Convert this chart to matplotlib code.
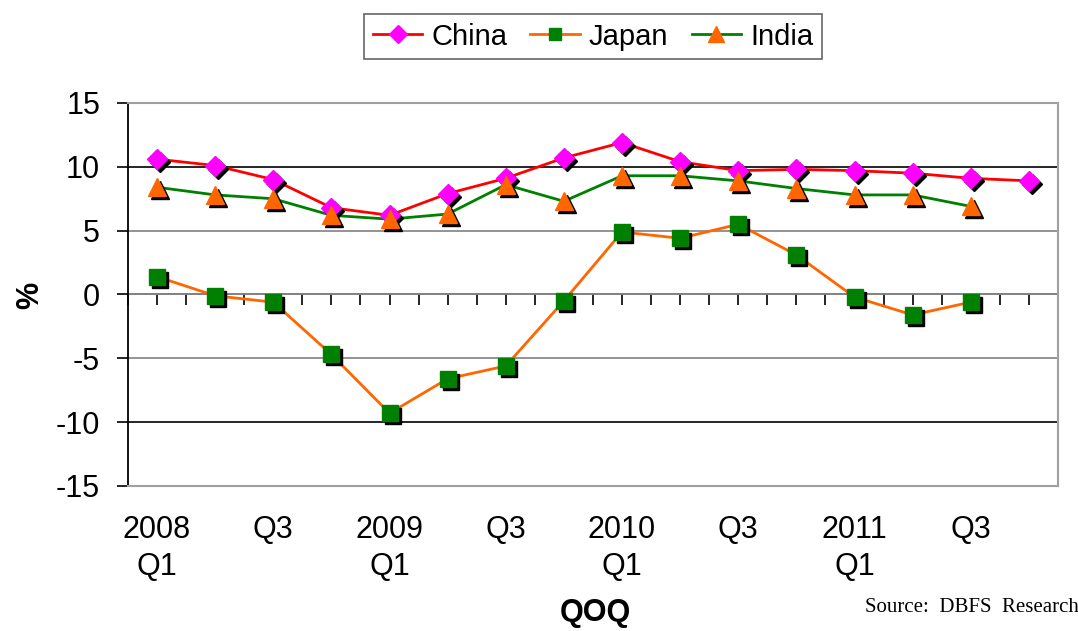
import matplotlib
matplotlib.use("Agg")
import matplotlib.pyplot as plt
import matplotlib.transforms as mtransforms
import numpy as np

plt.rcParams["font.family"] = ["Liberation Sans", "DejaVu Sans"]

QUARTERS = ["2008\nQ1", "Q2", "Q3", "Q4", "2009\nQ1", "Q2", "Q3", "Q4",
            "2010\nQ1", "Q2", "Q3", "Q4", "2011\nQ1", "Q2", "Q3", "Q4"]
china = [10.6, 10.1, 9.0, 6.8, 6.2, 7.9, 9.1, 10.7,
         11.9, 10.4, 9.7, 9.8, 9.7, 9.5, 9.1, 8.9]
japan = [1.4, -0.1, -0.6, -4.7, -9.3, -6.6, -5.6, -0.5,
         4.9, 4.4, 5.5, 3.1, -0.2, -1.6, -0.6]
india = [8.4, 7.8, 7.5, 6.2, 5.9, 6.3, 8.6, 7.3,
         9.3, 9.3, 8.9, 8.3, 7.8, 7.8, 6.9]

YTICKS = [-15, -10, -5, 0, 5, 10, 15]
GRID_COLORS = {-10: "black", -5: "#808080", 0: "#808080", 5: "#808080", 10: "black"}

fig = plt.figure(figsize=(10.78, 6.31), dpi=100)
ax = fig.add_axes([0.1187, 0.2298, 0.8627, 0.607])

shadow = mtransforms.offset_copy(ax.transData, fig=fig, x=3, y=-3, units="dots")

series = [
    ("China", china, "#FF0000", "#FF00FF", "D", 10.5),
    ("Japan", japan, "#FF6600", "#008000", "s", 11),
    ("India", india, "#008000", "#FF6600", "^", 13),
]

for name, vals, lc, mc, mk, ms in series:
    x = np.arange(len(vals))
    ax.plot(x, vals, color=lc, lw=2, zorder=3)
    ax.plot(x, vals, linestyle="none", marker=mk, ms=ms, color="black",
            transform=shadow, zorder=4)
    ax.plot(x, vals, linestyle="none", marker=mk, ms=ms, color=mc,
            markeredgecolor=mc, zorder=5)

# legend proxies
handles = []
for name, vals, lc, mc, mk, ms in series:
    h, = ax.plot([], [], color=lc, lw=2, marker=mk, ms=ms * 0.85,
                 markerfacecolor=mc, markeredgecolor=mc, label=name)
    handles.append(h)

leg = fig.legend(handles=handles, loc="center", bbox_to_anchor=(0.550, 0.942),
                 ncol=3, fontsize=21, frameon=True, fancybox=False,
                 handlelength=1.7, handletextpad=0.3, columnspacing=0.8,
                 borderpad=0.3, edgecolor="#404040")
leg.get_frame().set_linewidth(1.2)

for v, c in GRID_COLORS.items():
    ax.axhline(v, color=c, lw=1.2, zorder=1)

ax.set_ylim(-15, 15)
ax.set_xlim(-0.5, 15.5)
ax.set_yticks(YTICKS)
ax.set_yticklabels([str(v) for v in YTICKS])
ax.tick_params(axis="y", direction="out", length=8, width=1.2, pad=12,
               labelsize=22)

ax.set_xticks(np.arange(0, 16, 2))
ax.set_xticklabels(QUARTERS[::2], fontsize=22, linespacing=1.3)
ax.tick_params(axis="x", length=0, pad=21)

for s in ["top", "right", "bottom"]:
    ax.spines[s].set_color("#A0A0A0")
    ax.spines[s].set_linewidth(1.5)
ax.spines["left"].set_color("black")
ax.spines["left"].set_linewidth(1.3)

# category axis drawn at zero
zero_frac = (0 - (-15)) / 30
sec = ax.secondary_xaxis(zero_frac)
sec.set_xticks(np.arange(-0.5, 16, 0.5))
sec.set_xticklabels([])
sec.tick_params(direction="out", length=8, width=1.2, color="black")
sec.spines["bottom"].set_color("#808080")
sec.spines["bottom"].set_linewidth(1.2)
sec.spines["top"].set_visible(False)
sec.xaxis.set_ticks_position("bottom")
sec.spines["bottom"].set_visible(True)

fig.text(0.028, 0.532, "%", rotation=90, fontsize=22, fontweight="bold",
         ha="center", va="center")
fig.text(0.552, 0.028, "QOQ", fontsize=22, fontweight="bold",
         ha="center", va="center")
fig.text(0.802, 0.038, "Source:  DBFS  Research", fontsize=15,
         family=["Liberation Serif", "DejaVu Serif"], ha="left", va="center")

fig.savefig("out.png", dpi=100)
